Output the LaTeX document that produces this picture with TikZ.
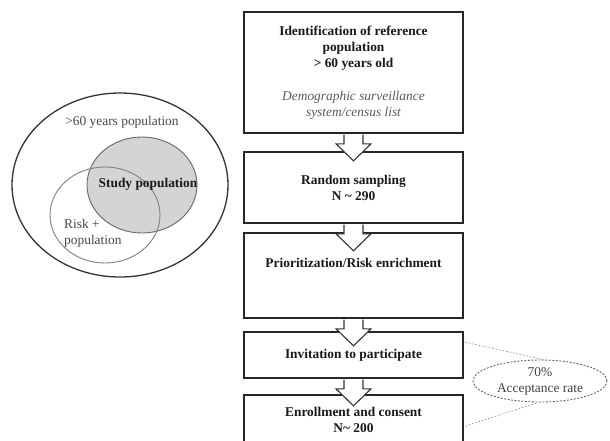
\documentclass[tikz,border=0pt]{standalone}
\usepackage{fontspec}
\setmainfont{Liberation Serif}
\usetikzlibrary{shapes.geometric,calc}
\begin{document}
\begin{tikzpicture}[x=1pt,y=-1pt,
  every node/.style={font=\fontsize{13.4}{16}\selectfont},
  box/.style={draw=black!85,line width=1.6pt,fill=white,rectangle,minimum width=219pt,inner sep=0pt,align=center,font=\fontsize{13.4}{16}\selectfont\bfseries,text=black!90},
  btxt/.style={align=center,font=\fontsize{13.4}{16}\selectfont\bfseries,text=black!90,inner sep=0pt},
  gtxt/.style={align=left,text=black!72,inner sep=0pt},
  arrowline/.style={draw=black!80,line width=1.1pt,line join=miter},
  barrow/.pic={
    \fill[white] (-9.5,0.9) -- (-9.5,10) -- (-17.5,10) -- (0,27) -- (17.5,10) -- (9.5,10) -- (9.5,0.9) -- cycle;
    \draw[arrowline] (-9.5,0.8) -- (-9.5,10) -- (-17.5,10) -- (0,27) -- (17.5,10) -- (9.5,10) -- (9.5,0.8);
  },
  thinline/.style={draw=black!40,line width=0.6pt,dash pattern=on 2pt off 1.5pt}
]
\useasboundingbox (0,0) rectangle (610,440);
\fill[white] (0,0) rectangle (610,440);

% Venn diagram
\fill[black!17] (142,185) ellipse [x radius=55, y radius=48];
\draw[black!80,line width=1.3pt] (120,185) ellipse [x radius=108, y radius=92];
\draw[black!60,line width=0.9pt] (142,185) ellipse [x radius=55, y radius=48];
\draw[black!50,line width=0.9pt] (105,215) ellipse [x radius=55, y radius=48];
\node[gtxt] (outerlbl) at (122,122) {>60 years population};
\node[btxt] (studylbl) at (148,184) {Study population};
\node[gtxt,anchor=west] (risklbl) at (64,233.5) {Risk +\\population};

% Flow boxes
\node[box,minimum height=121pt] (b1) at (353.5,72.5) {Identification of reference\\population\\> 60 years old\\[17pt]{\mdseries\itshape\color{black!65}Demographic surveillance}\\{\mdseries\itshape\color{black!65}system/census list}};
\node[box,minimum height=71pt] (b2) at (353.5,187.5) {Random sampling\\N \textasciitilde\ 290};
\node[box,minimum height=85pt] (b3) at (353.5,275.5) {};
\node[btxt] (b3t) at (353.5,263) {Prioritization/Risk enrichment};
\node[box,minimum height=46pt] (b4) at (353.5,355) {Invitation to participate};
\node[box,minimum height=50pt] (b5) at (353.5,420) {};
\node[btxt] (b5t) at (353.5,420) {Enrollment and consent\\N\textasciitilde\ 200};

% Block arrows
\pic at (b1.south) {barrow};
\pic at (b2.south) {barrow};
\pic at (b3.south) {barrow};
\pic at (b4.south) {barrow};

% Acceptance ellipse
\node[ellipse,draw=black!60,line width=0.9pt,dash pattern=on 2pt off 1.5pt,minimum width=134pt,minimum height=42pt,inner sep=0pt,align=center,text=black!75] (acc) at (540,381) {70\%\\Acceptance rate};
\coordinate (c1) at ($(b4.north east)+(1,11)$);
\coordinate (c2) at ($(b5.north east)+(1,32)$);
\draw[thinline] (c1) -- (acc.80);
\draw[thinline] (c2) -- (acc.265);
\end{tikzpicture}
\end{document}
